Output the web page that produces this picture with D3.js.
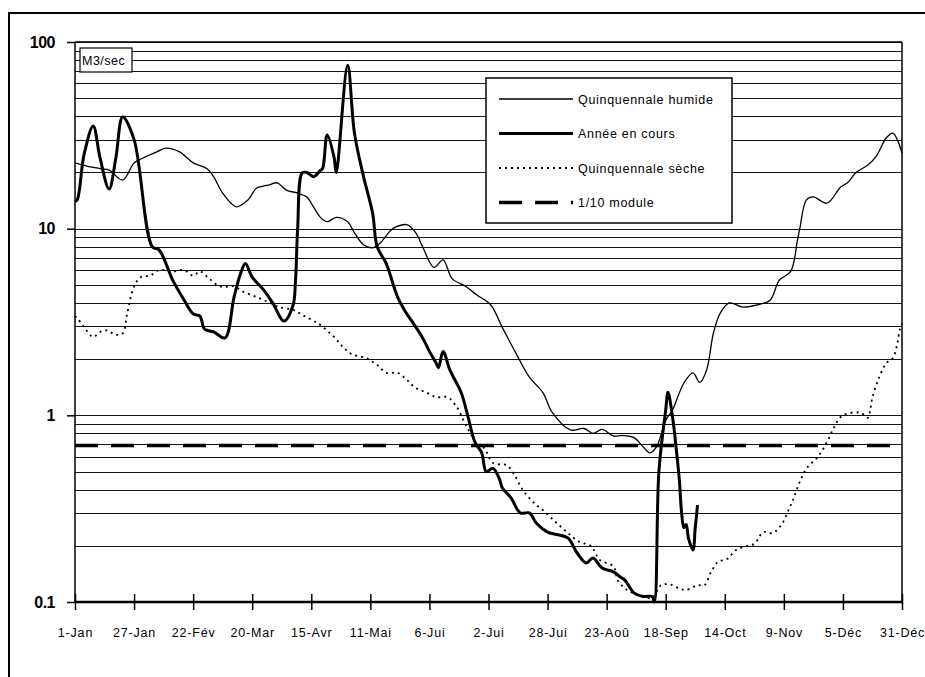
<html>
<head>
<meta charset="utf-8">
<title>Débits</title>
<style>
  body { margin: 0; padding: 0; background: #fff; }
  svg { display: block; font-family: Arial, "Liberation Sans", sans-serif; }
  .grid line { stroke: #111; stroke-width: 1.1; }
  .axis-x path, .axis-y path { display: none; }
  .axis-x line, .axis-y line { stroke: #000; stroke-width: 1.5; }
  .axis-x text { font-size: 12.5px; letter-spacing: 0.8px; fill: #000; }
  .axis-y text { font-size: 16px; font-weight: bold; letter-spacing: -0.5px; fill: #000; }
  .legend text { font-size: 12.5px; letter-spacing: 0.7px; fill: #000; }
</style>
</head>
<body>
<div id="chart"></div>
<script src="https://d3js.org/d3.v7.min.js"></script>
<script>
// jours depuis le 1er janvier, débit en m3/s
const tickDays = [0, 26, 52, 78, 104, 130, 156, 182, 208, 234, 260, 286, 312, 338, 364];
const tickLabels = ["1-Jan", "27-Jan", "22-Fév", "20-Mar", "15-Avr", "11-Mai", "6-Jui", "2-Jui",
                    "28-Jui", "23-Aoû", "18-Sep", "14-Oct", "9-Nov", "5-Déc", "31-Déc"];
const yTicks = [0.1, 1, 10, 100];
const yLabels = ["0.1", "1", "10", "100"];

const humide = [[0,22.5],[6,21.5],[11,21],[15,20.6],[21,18.2],[26,22.5],[30,23.9],[36,25.8],[40,27],
  [46,25.8],[52,22.5],[58,21],[61,19],[65,15.5],[71,13.1],[76,14.2],[80,16.5],[85,17.1],[89,17.6],
  [93,16.1],[98,15.5],[102,14.8],[104,13.7],[108,11.5],[111,10.9],[115,11.5],[120,10.9],[123,9.5],
  [127,8.2],[131,7.9],[134,8.3],[139,9.8],[141,10.2],[146,10.5],[150,9.5],[153,8.0],[158,6.2],
  [162,6.8],[166,5.4],[172,4.9],[177,4.4],[183,3.9],[188,2.97],[194,2.16],[200,1.6],[206,1.32],
  [210,1.04],[218,0.835],[224,0.85],[228,0.8],[232,0.84],[237,0.775],[241,0.78],[246,0.76],
  [250,0.68],[253,0.63],[256,0.68],[260,0.94],[263,1.07],[268,1.49],[272,1.69],[275,1.5],
  [278,1.75],[281,2.76],[284,3.53],[288,4.0],[294,3.8],[300,3.9],[306,4.15],[310,5.3],[315,5.9],
  [318,8.7],[319,10],[322,14.3],[325,14.8],[331,13.7],[337,16.7],[340,17.6],[344,20.1],[349,21.9],
  [353,24.8],[357,30.6],[360,32.5],[362,29.8],[364,25.4]];

const enCours = [[0,14],[1,14.3],[4,25],[8,35.5],[11,24],[15,16.3],[18,24],[21,39.6],[26,30],
  [34,8],[37,7.7],[43,5.3],[48,4.15],[52,3.5],[55,3.4],[57,2.9],[61,2.8],[66,2.6],[70,4.3],
  [73,5.8],[75,6.5],[78,5.5],[83,4.7],[87,4.0],[92,3.2],[96,3.9],[97,5.1],[98,10],[100,19.9],
  [102,20],[105,19],[108,20.5],[109,21],[111,31.8],[114,24.2],[115,20],[120,75],[123,32.5],
  [127,19],[131,12.1],[133,8],[137,6.5],[142,4.3],[146,3.5],[149,3.1],[153,2.6],[156,2.2],
  [159,1.9],[160,1.8],[162,2.2],[165,1.75],[170,1.32],[173,0.98],[176,0.72],[179,0.63],[181,0.5],
  [184,0.52],[187,0.45],[188,0.41],[192,0.36],[196,0.3],[200,0.3],[203,0.265],[208,0.237],
  [212,0.23],[217,0.22],[221,0.183],[225,0.162],[228,0.172],[232,0.152],[237,0.145],[240,0.136],
  [242,0.131],[246,0.112],[250,0.107],[254,0.107],[255,0.1],[257,0.5],[260,1.07],[261,1.33],
  [263,0.98],[265,0.6],[266,0.45],[267,0.3],[268,0.25],[269,0.26],[270,0.22],[272,0.19],
  [273,0.25],[274,0.33]];

const seche = [[0,3.4],[1,3.32],[4,2.97],[8,2.63],[11,2.8],[14,2.85],[18,2.7],[21,2.75],[23,3.53],
  [26,4.9],[29,5.5],[33,5.6],[37,6.0],[43,5.9],[48,6.0],[52,5.6],[55,5.9],[59,5.4],[64,4.9],
  [70,4.9],[74,4.6],[80,4.3],[85,4.05],[90,3.8],[96,3.67],[101,3.4],[106,3.16],[108,3.05],
  [114,2.63],[118,2.32],[122,2.12],[128,2.03],[133,1.86],[137,1.69],[142,1.69],[146,1.55],
  [150,1.4],[155,1.32],[159,1.25],[164,1.25],[168,1.11],[171,0.94],[174,0.8],[177,0.7],[180,0.67],
  [184,0.556],[190,0.54],[193,0.49],[197,0.4],[202,0.34],[206,0.31],[212,0.265],[217,0.234],
  [222,0.21],[227,0.2],[231,0.168],[237,0.155],[239,0.13],[243,0.116],[247,0.11],[252,0.105],
  [254,0.105],[258,0.123],[262,0.124],[266,0.118],[269,0.116],[274,0.123],[277,0.123],[280,0.145],
  [283,0.164],[287,0.17],[291,0.19],[296,0.2],[299,0.205],[303,0.237],[307,0.234],[311,0.26],
  [314,0.31],[316,0.352],[319,0.44],[322,0.52],[327,0.6],[331,0.72],[334,0.86],[337,0.98],
  [341,1.03],[346,1.03],[349,0.97],[350,1.07],[351,1.25],[354,1.6],[357,1.9],[360,2.03],
  [362,2.44],[363,2.87],[364,3.1]];

const module10 = 0.69;

const legendItems = [
  { label: "Quinquennale humide", width: 1.3, dash: null },
  { label: "Année en cours", width: 3, dash: null },
  { label: "Quinquennale sèche", width: 1.8, dash: "2,4" },
  { label: "1/10 module", width: 3.5, dash: "23,13" }
];

const W = 925, H = 677;
const svg = d3.select("#chart").append("svg").attr("width", W).attr("height", H);

// cadre extérieur
svg.append("rect").attr("x", 9).attr("y", 13).attr("width", 940).attr("height", 700)
  .attr("fill", "none").attr("stroke", "#000").attr("stroke-width", 2);

const x = d3.scaleLinear().domain([0, 364]).range([75, 902]);
const y = d3.scaleLog().domain([0.1, 100]).range([602, 42]);

// grille horizontale
svg.append("g").attr("class", "grid")
  .selectAll("line").data(y.ticks()).enter().append("line")
  .attr("x1", x(0)).attr("x2", x(364))
  .attr("y1", d => Math.round(y(d)) + 0.5).attr("y2", d => Math.round(y(d)) + 0.5);

// bords du graphe
svg.append("line").attr("x1", x(0)).attr("x2", x(0)).attr("y1", y(100)).attr("y2", y(0.1))
  .attr("stroke", "#000").attr("stroke-width", 1.5);
svg.append("line").attr("x1", x(364)).attr("x2", x(364)).attr("y1", y(100)).attr("y2", y(0.1))
  .attr("stroke", "#000").attr("stroke-width", 1.5);
svg.append("line").attr("x1", x(0)).attr("x2", x(364)).attr("y1", y(0.1)).attr("y2", y(0.1))
  .attr("stroke", "#000").attr("stroke-width", 2.5);
svg.append("line").attr("x1", x(0)).attr("x2", x(364)).attr("y1", y(100)).attr("y2", y(100))
  .attr("stroke", "#000").attr("stroke-width", 1.5);

const xAxis = d3.axisBottom(x).tickValues(tickDays)
  .tickFormat((d, i) => tickLabels[i]).tickSize(8).tickPadding(18);
const gx = svg.append("g").attr("class", "axis-x")
  .attr("transform", `translate(0,${y(0.1)})`).call(xAxis);
gx.selectAll(".tick line").attr("y1", -8);

const yAxis = d3.axisLeft(y).tickValues(yTicks)
  .tickFormat((d, i) => yLabels[i]).tickSize(8).tickPadding(12);
svg.append("g").attr("class", "axis-y")
  .attr("transform", `translate(${x(0)},0)`).call(yAxis);

const line = d3.line().x(d => x(d[0])).y(d => y(d[1])).curve(d3.curveCatmullRom.alpha(0.5));

svg.append("path").datum(seche).attr("d", line)
  .attr("fill", "none").attr("stroke", "#000").attr("stroke-width", 1.8)
  .attr("stroke-dasharray", "2,4");
svg.append("path").datum(humide).attr("d", line)
  .attr("fill", "none").attr("stroke", "#000").attr("stroke-width", 1.3);
svg.append("line").attr("x1", x(0)).attr("x2", x(364))
  .attr("y1", y(module10)).attr("y2", y(module10))
  .attr("stroke", "#000").attr("stroke-width", 3.5).attr("stroke-dasharray", "23,13");
svg.append("path").datum(enCours).attr("d", line)
  .attr("fill", "none").attr("stroke", "#000").attr("stroke-width", 3)
  .attr("stroke-linejoin", "round");

// unité
svg.append("rect").attr("x", 80).attr("y", 48).attr("width", 52).attr("height", 24)
  .attr("fill", "#fff").attr("stroke", "#000").attr("stroke-width", 1.2);
svg.append("text").attr("x", 82).attr("y", 65).attr("font-size", 12.5)
  .attr("letter-spacing", "0.5px").text("M3/sec");

// légende
const legend = svg.append("g").attr("class", "legend");
legend.append("rect").attr("x", 486).attr("y", 78).attr("width", 246).attr("height", 145)
  .attr("fill", "#fff").attr("stroke", "#000").attr("stroke-width", 1.5);
legendItems.forEach((it, i) => {
  const ly = 99 + i * 34.5;
  legend.append("line").attr("x1", 499).attr("x2", 573).attr("y1", ly).attr("y2", ly)
    .attr("stroke", "#000").attr("stroke-width", it.width)
    .attr("stroke-dasharray", it.dash);
  legend.append("text").attr("x", 578).attr("y", ly + 4.5).text(it.label);
});
</script>
</body>
</html>
